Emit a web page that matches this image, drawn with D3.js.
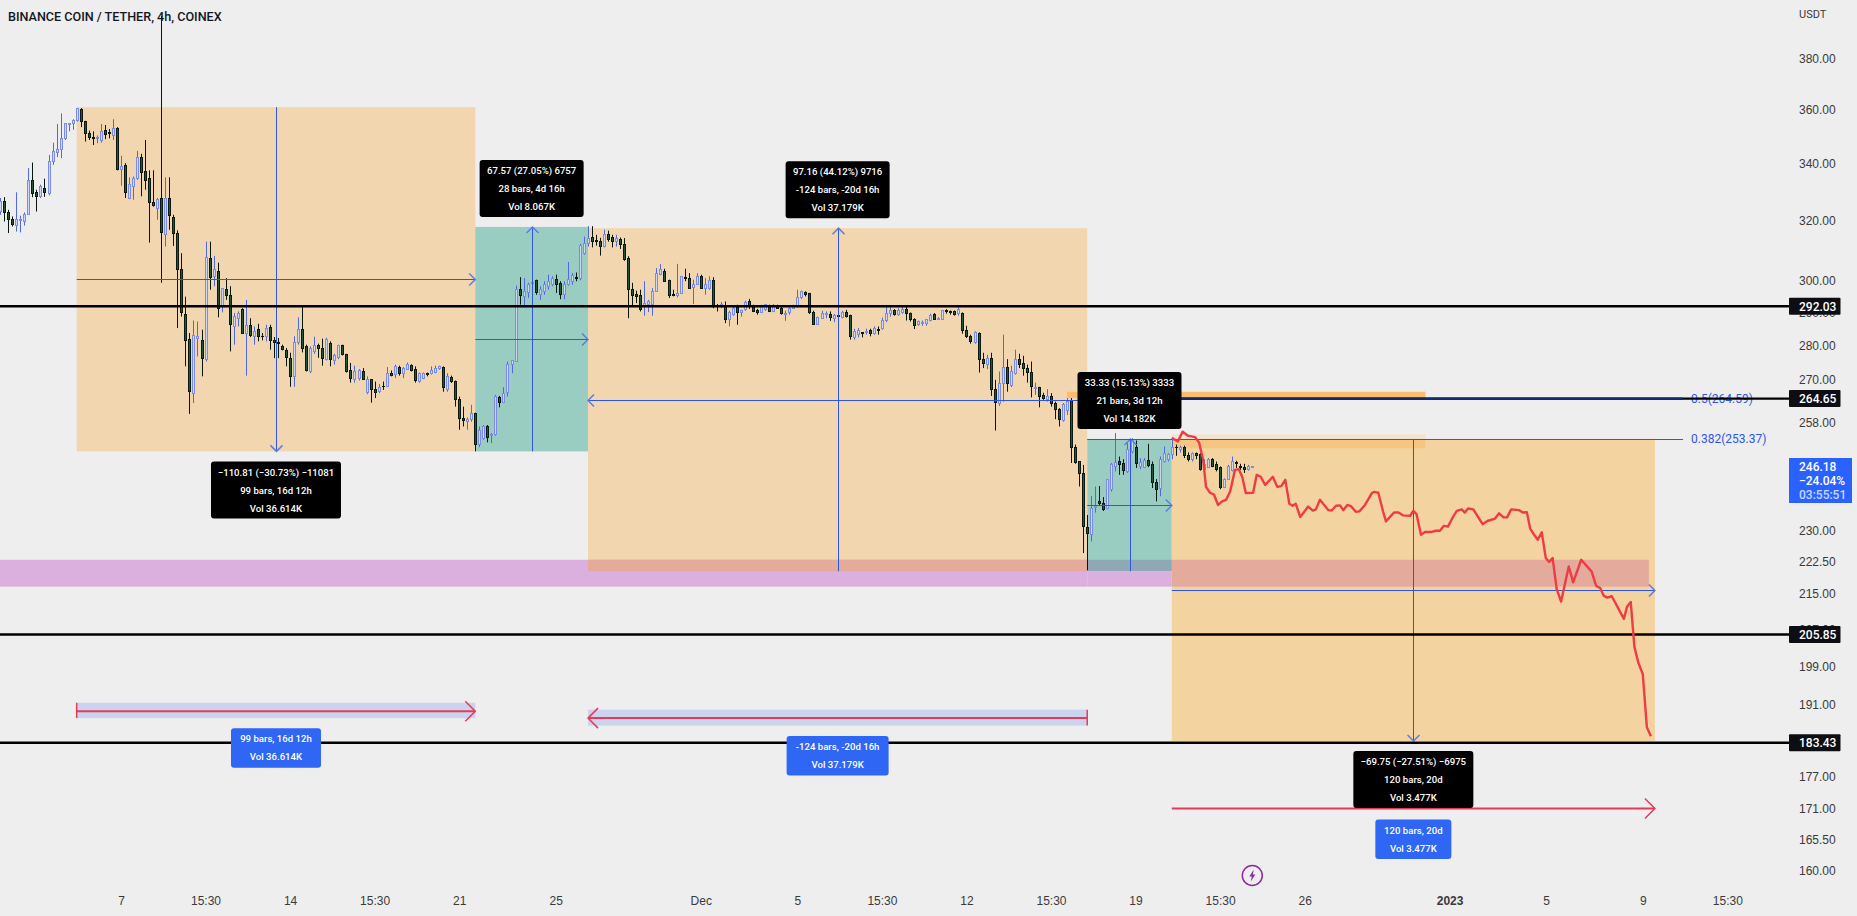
<!DOCTYPE html>
<html>
<head>
<meta charset="utf-8">
<title>BNB/USDT 4h</title>
<script src="https://cdn.jsdelivr.net/npm/d3@7"></script>
<style>
  html, body { margin: 0; padding: 0; background: #eeeeef; overflow: hidden; }
  svg { display: block; font-family: Roboto, sans-serif; }
  .tick text { fill: #3a3a3a; font-size: 12px; }
  .tool-label { fill: #fff; font-size: 9.6px; font-weight: 500; text-anchor: middle; }
</style>
</head>
<body>
<div id="chart"></div>
<script>
// Candles, one row per 4h bar: open, high, low, close
var candles = [
  [323,327.7,321.9,326.5],[326.5,328,319.6,322.7],[322.7,323.6,315.7,320.4],[320.2,321.3,317.9,318.5],[318.2,329.7,316.2,320.2],
  [320,321.6,315.9,320.2],[319.6,322.7,318.2,321.9],[321.9,338.3,321.9,333.7],[333.7,340.3,328,329.3],[329.5,330.6,323,328.1],
  [328.1,332.4,327.7,331.6],[331.2,334.5,328.1,329.7],[329.3,343.1,328.6,340.7],[340.7,347.6,339.5,344.3],[343.9,354.6,342.3,345.1],
  [345.1,358.6,341.9,349.2],[349.2,354.9,348.6,354.6],[354.3,354.9,351.8,354.6],[354.6,356.4,352.4,355.8],[355.8,360.6,355.5,360.6],
  [360.2,360.6,353.4,355.5],[355.6,355.8,348,351.1],[351.1,352.1,348.6,349.6],[349.6,351.8,346.7,349.3],[349.2,350.3,347.4,349.6],
  [348.4,354.6,347.6,351.8],[352.1,354.2,348.9,350.7],[351.4,352.7,349.2,351.1],[350.3,356.4,348.6,353],[353,353.4,337.5,337.7],
  [337.7,342.8,332,338.9],[339.4,340.1,327.7,329.5],[327.7,335,327.3,332.4],[331.8,335.3,327.1,334.7],[334.7,344.6,334.1,342.3],
  [342.3,343.5,328.3,336.7],[337.1,348.6,330.6,333.9],[334.5,337.5,312.5,326],[326,337.5,324.7,325],[324.2,327.7,320.2,327.3],
  [327.7,397.8,299.4,316],[315.1,335,311.2,327.7],[327.7,335,316.8,321.7],[320.8,321.9,311.4,315.4],[315.4,316.6,285.3,303.8],
  [303.8,309,288.8,290.1],[289.4,295,273.9,281.6],[281.8,283.8,260.4,266.6],[266.2,287.6,263.4,283],[282.2,287.3,276.8,282.6],
  [281.6,284.8,271,276.3],[275.8,312.8,275.3,307.7],[307.1,312.8,297.2,301.2],[301.5,308.1,298.3,303.6],[303,305.9,288.6,291.4],
  [291.9,297.7,290.1,297.7],[297.4,300.9,294,295.5],[295.4,298.3,278.3,286.3],[285.8,289.9,280.3,288.8],[288.3,290.4,285.8,289.9],
  [290.9,291.4,283.6,283.8],[283.8,294,271.2,286],[286,288.3,282.6,283],[282.8,285.8,280.3,284.3],[285,286.6,281.3,282.8],
  [282.8,283.8,281.6,282.6],[282.8,286.3,281.3,285.3],[285.6,286.3,278.8,281.6],[281.6,282.6,276.3,280.8],[281,282.3,276.3,280.5],
  [279.8,280.3,278.6,278.8],[278.6,279.3,273.9,276.6],[276.3,277.9,268,271],[271,282.8,268,281],[280.8,288.6,280.3,284.8],
  [284.8,292.1,278,279.1],[279.7,280.3,272.4,272.7],[272.3,279.8,271.9,279.1],[278.3,282.7,277.6,280.1],[280,280.6,276.4,279.3],
  [279.3,282.1,274.1,276.3],[275.8,282.4,275.6,281.8],[280.6,281.3,273.9,275.8],[275.6,277.6,274.4,277],[276.6,280.3,276,280],
  [280.1,280.3,277.1,277.3],[277.3,277.6,272.1,272.4],[272.6,274.9,269.2,270.5],[270.2,274.1,269.2,272.4],[270.5,273.1,269.8,272.7],
  [272.4,273.4,270,270.2],[266.3,271,265.9,270.2],[270,270.2,263.5,267.3],[267.3,269.5,264.8,266.3],[266.6,268.8,266.2,267.9],
  [268.2,269.5,267.1,268],[268,273.7,267.9,271.9],[271.9,272.7,271,271.2],[271.5,274.4,270.5,273.9],[273.5,274.1,271.2,271.8],
  [271.8,273.7,270.5,273.4],[273.1,275,272.9,274.4],[274.1,274.5,272.4,272.7],[273.1,273.9,269.2,269.8],[269.5,272.1,269.2,271.8],
  [270.5,272.1,270.2,271.8],[271.9,272.1,271,271.4],[271.8,273.9,271.5,272.7],[272.1,274.1,271.9,273.4],[273.4,274.1,272.9,273.8],
  [273.7,273.9,266.6,267.9],[267.1,271.9,266.6,271],[270.8,271.2,269.1,269.5],[269.5,269.8,262.4,264.5],[264.3,265.2,256,259.2],
  [259.2,262.4,256.9,258.5],[258.2,259.4,256,258.7],[258.7,262.9,258.2,260.6],[260.4,260.7,250.2,252],[252,256.9,251.3,255.8],
  [253.7,257.3,253.3,256.9],[256.9,257.3,252.6,254],[254.4,255.1,252.4,254.7],[254.6,265.7,254.4,265.2],[264.9,265.4,262.2,263.5],
  [263.5,267.9,263.4,266.2],[266.3,275.3,265.2,274.4],[274.4,275.6,271.9,275.6],[275.3,298.5,275.3,297.2],[297.2,301.2,292.5,295.3],
  [295.1,300.9,291.7,296.7],[296.2,299.4,294.6,298.8],[299.1,300.2,298.8,299.5],[300.1,300.4,295.6,296.2],[295.6,298.3,294,297.4],
  [296.7,299.9,295.6,299],[298.3,302,297.2,299.9],[298.8,301.5,298.3,300.9],[300.4,302,296.2,298.8],[299.1,299.9,294.2,295.6],
  [295.6,299.9,294.2,298.8],[298.8,306.1,298.5,300.4],[299.9,302.5,298.8,301.7],[301.2,302.7,299.9,300.8],[300.7,312.1,300.2,311.4],
  [309,314.5,308.5,312.3],[312.1,318,311.2,314],[314.2,318,310.9,312.8],[313.2,315.1,311.5,312.8],[312.8,314.1,308.2,311.2],
  [311.2,316.8,310.9,315.1],[315.1,316.5,312.8,313.4],[314.2,315.1,310.9,312.8],[312.8,315.1,311.2,314],[313.4,314.2,310.4,311.8],
  [312,314,306.5,307],[307.4,308,288.3,297.2],[297.2,299.4,291.9,295.4],[295.6,296.9,293,295.1],[295.4,297.2,290.4,290.9],
  [291.9,299.9,289.1,293],[292.5,294,290.2,293.5],[292.5,297.7,289.1,296.7],[296.7,304.1,296.7,302.5],[302,305.4,301.8,303.6],
  [303,303.9,299.7,299.9],[300.1,300.4,294.6,295.3],[295.6,297.2,295.1,295.3],[295.3,305.5,294.8,295.9],[295.9,301.5,295.9,301.5],
  [301.2,303.9,299.9,300.7],[300.7,302.5,297.5,297.7],[298,300.4,292.7,299],[299,302.5,298.8,301.5],[301.5,302,297.5,297.7],
  [297.7,300.9,295.6,298.8],[297.5,301.5,297.2,300.1],[300.1,301.2,291.4,292.1],[292.3,292.7,290.4,291.8],[291.8,293.3,291.4,292.5],
  [291.9,293.5,286.8,287.8],[287.8,290.6,285.8,290.2],[289.6,291.9,289.1,291.4],[291.6,292.5,286.3,290.2],[290.2,290.9,288.8,290.6],
  [290.9,293.7,290.6,293.3],[293.5,294.3,291.2,291.9],[291.9,292.5,290.2,290.4],[290.6,291.2,289.4,290.1],[290.2,292.5,289.9,291.9],
  [290.9,292.7,290.6,292.5],[291.8,292.5,290.2,290.4],[290.4,292.7,290.2,291.9],[292.1,292.5,291.2,291.4],[291.4,291.9,289.4,289.8],
  [289.4,290.6,287.5,289.9],[290.2,291.6,289.4,291.4],[291.4,292.5,291.2,292.1],[291.9,297.2,291.6,294.6],[294.6,296.9,294.3,296.5],
  [296.2,296.7,295.1,295.6],[295.9,296.2,289.6,290.2],[290.2,290.6,286.3,286.5],[286.5,288.8,286.3,288.5],[288.3,290.6,288.1,289.9],
  [289.4,290.4,288.3,289.8],[289.6,290.4,287.5,288.5],[288.1,289.6,287.1,289.1],[289.1,290.6,285.4,288.7],[288.5,290.6,288.3,290.2],
  [290.2,290.9,288.5,288.8],[289,289.4,281.8,282.8],[282.5,285.1,281.8,284.3],[283.3,285.3,282.5,284.5],[283.9,284.1,282.5,283.6],
  [283.9,285.1,283.3,284.3],[284.5,285.1,282.8,283.6],[283.8,285.8,283.3,285.1],[285,285.8,283.3,284.5],[285.1,288.5,284.8,287.5],
  [287.5,291.9,287.1,289.9],[289.7,291.7,288.8,290.7],[290.6,291.1,289.1,289.4],[289.4,291.4,289.1,290.7],[290.1,291.9,289.7,291.1],
  [290.9,292.1,287.6,289.9],[289.9,290.1,287.3,287.8],[288,288.3,285,286],[286.3,287.6,286,287.3],[286.8,287.6,286,287.1],
  [286.8,288,286,287.8],[287.6,289.7,287.3,289.1],[289.4,289.9,287.8,288],[288,288.6,287.8,288.3],[288,290.9,287.8,290.7],
  [290.7,291.1,289.7,290.4],[290.4,290.7,289.4,290.2],[290.4,290.7,289.1,289.4],[289.7,291.7,289.1,291.1],[289.9,290.1,283.6,284.6],
  [284.6,286,282.3,282.8],[282.8,283.3,280.6,281.3],[280.8,284.3,280.6,284],[283.8,284,272.1,276],[276,277.9,273.4,274.7],
  [274.4,277.3,273.1,276.3],[276.3,277.9,265.4,267.3],[267.3,270,255.8,263.5],[263.2,272.4,262.6,268.8],[268.8,283.3,263.8,273.7],
  [273.7,276,266.6,268.8],[268.5,274.1,267.9,272.4],[271.8,278.8,271.5,275.8],[275.8,277.6,273.4,274.4],[274.7,277,271.2,273.4],
  [273.4,274.4,269.2,272.1],[272.1,275.3,265,268],[267.5,269.2,265.7,267.9],[267.7,268,262.2,265.2],[265.6,266.3,264.3,264.8],
  [264.5,267.3,263.8,265.2],[265.2,266.2,262.4,263.2],[263.4,263.8,258.9,261.5],[261.5,262,256.9,258.9],[258.5,263.4,258.2,262.9],
  [261.3,264.8,260.1,263.8],[264.1,264.8,247.1,251.3],[251.3,252,246.9,247.2],[247.5,247.5,241,244.3],[244.3,246.6,224.5,230.9],
  [230.8,233.8,220.4,229.3],[228.9,238.6,227.3,235.5],[235.7,241,234.4,236],[237.2,241.1,236,236.6],[236.6,238.3,234.8,235.2],
  [235.4,242.7,235.2,242.7],[240.1,247.1,239.7,246.6],[246.2,255.1,244.9,247.2],[247.5,248.8,244,246.6],[246.9,248.1,244,245.1],
  [244.9,252.4,244.5,250.6],[250.2,253.7,249.7,253.3],[251.1,253.1,245.8,246.9],[246.2,248.4,245.5,247.2],[246,248.4,245.8,247.7],
  [247.7,252.2,246,246.5],[246.6,247.5,240.6,241.9],[242.1,242.9,237.2,240.1],[240.6,248.8,238.5,248.1],[247.5,251.5,247.2,249.6],
  [247.9,249.7,247.5,249.3],[249.3,254,248.1,251.1],[251.3,252,249,251.1],[250.8,251.7,249.9,251.3],[251.3,251.7,248.4,249],
  [249,249.9,247.5,248.1],[247.9,249.9,247.5,249.7],[249.7,249.9,248.1,249],[249.3,249.7,245.1,245.5],[245.5,248.1,245.1,246.6],
  [246,248.4,245.8,248.1],[247.9,248.4,246,246.2],[246.6,247.5,244.9,245.5],[245.8,246.2,240.3,240.7],[240.7,243.1,240.6,242.9],
  [242.9,246.6,242.7,246.2],[245.1,248.8,244.9,247.5],[247.3,247.7,245.8,246.9],[246.3,246.9,245.3,246],[246,246.9,244.5,245.5],
  [245.3,246.6,245.1,246.3],[246.1,246.3,246.1,246.18]
];

// Red projection line, bar position and price
var projectionBars = [291,292.5,293.7,295,296.8,297.8,298.8,299.5,300.5,301.5,302.5,303.5,304.5,305.5,306.7,307.6,308.5,309.4,311.2,312.1,
  313.1,314.2,316.1,317.2,318.2,319.2,320.2,321,321.8,322.9,324.9,326,326.8,327.8,329.9,330.7,331.8,332.8,333.6,334.6,
  335.5,336.7,337.6,339,340.7,341.3,342.3,343.5,344.2,346.2,347.3,348.4,350.2,351,351.8,352.9,353.9,355.6,356.6,357.6,
  358.6,359.6,360.9,361.8,363,363.8,364.6,365.9,368.2,369.4,371.3,372.3,373.4,374.3,375.3,377.3,378.2,379.2,380,381,
  381.9,382.9,383.9,384.7,385.6,386.6,387.7,389.6,390.7,392.7,395.3,396.4,397.4,398.3,399.2,400.3,403.3,404.1,405,405.9,
  406.9,408,409,410];
var projectionPrices = [253.8,252.8,255.5,254.4,254,252.5,247.9,240.9,239.4,238.9,236.3,237.2,237.6,239.7,245.3,245.5,243.5,239.3,239.4,244,
  243.5,241.4,243.5,240.9,241.1,242.7,236.6,236.1,236.6,233.3,235.9,234.9,235.2,237.6,235,234.9,236.1,236.2,235,236.3,
  236,234.6,234.7,236.3,239.3,239.6,239.4,234.6,232.2,234.4,234.4,233.7,233.6,234.8,234,228.9,229.6,229.6,229.9,229.9,
  231.1,230.9,233.4,234.8,235.2,234.4,235.4,235.2,231.5,232.3,232.9,234.2,233.2,233.2,235.2,235,234.4,234.5,230.5,228.9,
  227.7,229.5,223.3,222.4,223.3,216.1,213.2,221.3,217.6,222.9,220.1,216.8,216.3,214.5,214.1,214.4,209.3,212.1,213.1,203.2,
  199.7,197.3,186.5,184.7];

// Price and time axes
var priceTicks = [380,360,340,320,300,290,280,270,258,230,222.5,215,207,199,191,177,171,165.5,160];
var timeTickBars = [30,51,72,93,114,138,174,198,219,240,261,282,303,324,360,384,408,429];
var timeTickLabels = ['7','15:30','14','15:30','21','25','Dec','5','15:30','12','15:30','19','15:30','26','2023','5','9','15:30'];

// Horizontal levels with their price tags
var levelPrices = [292.03,264.65,205.85,183.43];
var levelStartBars = [null,270,null,null];

// Measure tools, bars and prices from start to end
var measureStartBars = [19,118,270,270,291];
var measureEndBars = [118,146,146,291,411];
var measureStartPrices = [360.99,250.18,220.18,220.18,253.51];
var measureEndPrices = [250.18,317.75,317.34,253.51,183.76];
var measureFills = ['#f2d6b0','#9acdc2','#f2d6b0','#9acdc2','#f3d3a0'];

var measureLabels = [
  ['\u2212110.81 (\u221230.73%) \u221211081','99 bars, 16d 12h','Vol 36.614K'],
  ['67.57 (27.05%) 6757','28 bars, 4d 16h','Vol 8.067K'],
  ['97.16 (44.12%) 9716','-124 bars, -20d 16h','Vol 37.179K'],
  ['33.33 (15.13%) 3333','21 bars, 3d 12h','Vol 14.182K'],
  ['\u221269.75 (\u221227.51%) \u22126975','120 bars, 20d','Vol 3.477K']
];
var measureLabelWidths = [130,104,104,104,120];

// Date range tools
var rangeStartBars = [19,270,291];
var rangeEndBars = [118,146,411];
var rangePrices = [189.7,188.3,171];
var rangeBandTops = [191.4,190,null];
var rangeBandBottoms = [188.3,186.8,null];
var rangeLabels = [
  ['99 bars, 16d 12h','Vol 36.614K'],
  ['-124 bars, -20d 16h','Vol 37.179K'],
  ['120 bars, 20d','Vol 3.477K']
];
var rangeLabelWidths = [90,102,76];
var rangeLabelGaps = [17,18,11];

// Support band and fib levels
var bandTop = 222.9, bandBottom = 216.6;
var fibRatios = ['0.5','0.382'];
var fibPrices = [264.59,253.37];
var fibStartBar = 270, fibEndBar = 418;

var width = 1857, height = 916;

var x = d3.scaleLinear().domain([0, 411]).range([0.2, 1654.9]);
var y = d3.scaleLog().domain([380, 160]).range([59, 871]);

var svg = d3.select('#chart').append('svg')
  .attr('width', width)
  .attr('height', height);

var blue = '#2f55e4',
    arrowBlue = '#5f7dde',
    red = '#e23c58',
    axisEdge = 1789;

// Snap a thin line to the pixel grid so it stays saturated
function snap(v){
  return Math.round(v) + 0.5;
}

// Support band, then the parts of it that sit under the boxes
var bands = svg.append('g');
function bandRect(b0, b1, top, bottom, fill){
  bands.append('rect')
    .attr('x', b0 === null ? 0 : x(b0))
    .attr('y', y(top))
    .attr('width', x(b1) - (b0 === null ? 0 : x(b0)))
    .attr('height', y(bottom) - y(top))
    .attr('fill', fill);
}

// Boxes
svg.append('g').selectAll('rect')
  .data(measureStartBars)
  .enter()
  .append('rect')
  .attr('x', (d, i) =>{return Math.min(x(d), x(measureEndBars[i]));})
  .attr('y', (d, i) =>{return Math.min(y(measureStartPrices[i]), y(measureEndPrices[i]));})
  .attr('width', (d, i) =>{return Math.abs(x(measureEndBars[i]) - x(d));})
  .attr('height', (d, i) =>{return Math.abs(y(measureEndPrices[i]) - y(measureStartPrices[i]));})
  .attr('fill', (d, i) =>{return measureFills[i];});

svg.node().appendChild(bands.node());
bandRect(null, 270, bandTop, bandBottom, '#dbb0df');
bandRect(146, 270, bandTop, 220.18, '#e4aa9c');
bandRect(270, 291, bandTop, 220.18, '#8ea8b5');
bandRect(291, 409.5, bandTop, bandBottom, '#e4aa9c');
bandRect(270, 291, 220.18, bandBottom, '#dbb0df');

// Orange zones near the fib levels
svg.append('rect')
  .attr('x', x(265)).attr('y', y(266.6))
  .attr('width', x(354) - x(265)).attr('height', y(264.8) - y(266.6))
  .attr('fill', '#fbbd6d');
svg.append('rect')
  .attr('x', x(291)).attr('y', y(254.8))
  .attr('width', x(354) - x(291)).attr('height', y(253.51) - y(254.8))
  .attr('fill', '#fbbd6d')
  .attr('opacity', 0.2);
svg.append('rect')
  .attr('x', x(291)).attr('y', y(253.51))
  .attr('width', x(354) - x(291)).attr('height', y(251) - y(253.51))
  .attr('fill', '#fbbd6d')
  .attr('opacity', 0.6);

// Candles
var bars = svg.append('g').selectAll('g')
  .data(candles)
  .enter()
  .append('g');

bars.append('line')
  .attr('x1', (d, i) =>{return snap(x(i));})
  .attr('x2', (d, i) =>{return snap(x(i));})
  .attr('y1', (d) =>{return y(d[1]);})
  .attr('y2', (d) =>{return y(d[2]);})
  .attr('stroke', (d) =>{return d[3] >= d[0] ? '#4f69e0' : '#08170d';});

bars.append('rect')
  .attr('x', (d, i) =>{return Math.round(x(i)) - 0.5;})
  .attr('width', 2)
  .attr('y', (d) =>{return y(Math.max(d[0], d[3]));})
  .attr('height', (d) =>{return Math.max(0.5, Math.abs(y(d[0]) - y(d[3])));})
  .attr('fill', (d) =>{return d[3] >= d[0] ? '#cfd6f2' : '#24573a';})
  .attr('stroke', (d) =>{return d[3] >= d[0] ? '#7a8de2' : '#0a1a10';})
  .attr('shape-rendering', 'crispEdges');

// Chevron at the end of a line
function chevron(px, py, dir, size, color, sw){
  var dx = dir === 'l' ? size : dir === 'r' ? -size : 0,
      dy = dir === 'u' ? size : dir === 'd' ? -size : 0;
  var a = dx !== 0 ? [px + dx, py - size] : [px - size, py + dy],
      b = dx !== 0 ? [px + dx, py + size] : [px + size, py + dy];
  svg.append('path')
    .attr('d', 'M' + a + 'L' + [px, py] + 'L' + b)
    .attr('fill', 'none')
    .attr('stroke', color)
    .attr('stroke-width', sw);
}

// Measure cross lines
measureStartBars.forEach((d, i) =>{
  var x0 = x(d), x1 = x(measureEndBars[i]),
      y0 = y(measureStartPrices[i]), y1 = y(measureEndPrices[i]),
      midX = snap((x0 + x1)/2), midY = snap((y0 + y1)/2);

  svg.append('line')
    .attr('x1', x0).attr('y1', midY).attr('x2', x1).attr('y2', midY)
    .attr('stroke', blue);
  svg.append('line')
    .attr('x1', midX).attr('y1', y0).attr('x2', midX).attr('y2', y1)
    .attr('stroke', blue);

  chevron(x1, midY, x1 > x0 ? 'r' : 'l', 6, arrowBlue, 1.5);
  chevron(midX, y1, y1 > y0 ? 'd' : 'u', 6, arrowBlue, 1.5);
});

// Axes
var yAxis = d3.axisRight(y)
  .tickValues(priceTicks)
  .tickFormat(d3.format('.2f'))
  .tickSize(0);

svg.append('g')
  .attr('transform', 'translate(1796,0)')
  .call(yAxis)
  .call((g) =>{g.select('.domain').remove();});

var xAxis = d3.axisBottom(x)
  .tickValues(timeTickBars)
  .tickFormat((d, i) =>{return timeTickLabels[i];})
  .tickSize(0);

svg.append('g')
  .attr('transform', 'translate(0,893)')
  .call(xAxis)
  .call((g) =>{
    g.select('.domain').remove();
    g.selectAll('text').style('font-weight', (d, i) =>{return timeTickLabels[i] === '2023' ? 700 : 400;});
  });

svg.append('text')
  .attr('x', 1799).attr('y', 18)
  .attr('fill', '#3a3a3a').attr('font-size', 11)
  .text('USDT');

// Fib labels
fibPrices.forEach((d, i) =>{
  svg.append('text')
    .attr('x', x(fibEndBar) + 8).attr('y', y(d) + 4)
    .attr('fill', blue).attr('font-size', 12)
    .text(fibRatios[i] + '(' + d3.format('.2f')(d) + ')');
});

// Black levels
levelPrices.forEach((d, i) =>{
  svg.append('line')
    .attr('x1', levelStartBars[i] === null ? 0 : x(levelStartBars[i]))
    .attr('x2', axisEdge)
    .attr('y1', y(d)).attr('y2', y(d))
    .attr('stroke', '#000')
    .attr('stroke-width', 2.4);
});

// Fib lines, the 0.5 one runs on top of the black level
svg.append('line')
  .attr('x1', x(fibStartBar)).attr('x2', x(fibEndBar))
  .attr('y1', y(fibPrices[0])).attr('y2', y(fibPrices[0]))
  .attr('stroke', '#12296e')
  .attr('stroke-width', 2.4);
svg.append('line')
  .attr('x1', x(fibStartBar)).attr('x2', x(fibEndBar))
  .attr('y1', snap(y(fibPrices[1]))).attr('y2', snap(y(fibPrices[1])))
  .attr('stroke', blue);

// Red projection
var projectionLine = d3.line()
  .x((d, i) =>{return x(projectionBars[i]);})
  .y((d) =>{return y(d);});

svg.append('path')
  .datum(projectionPrices)
  .attr('d', projectionLine)
  .attr('fill', 'none')
  .attr('stroke', '#ef3b45')
  .attr('stroke-width', 2.4)
  .attr('stroke-linejoin', 'round');

// Date ranges
rangeStartBars.forEach((d, i) =>{
  var x0 = x(d), x1 = x(rangeEndBars[i]), ry = y(rangePrices[i]);

  if(rangeBandTops[i] !== null){
    svg.append('rect')
      .attr('x', Math.min(x0, x1)).attr('width', Math.abs(x1 - x0))
      .attr('y', y(rangeBandTops[i]))
      .attr('height', y(rangeBandBottoms[i]) - y(rangeBandTops[i]))
      .attr('fill', '#cbd3ee');
    svg.append('line')
      .attr('x1', x0).attr('x2', x0)
      .attr('y1', y(rangeBandTops[i])).attr('y2', y(rangeBandBottoms[i]))
      .attr('stroke', red).attr('stroke-width', 1.5);
  }
  svg.append('line')
    .attr('x1', x0).attr('x2', x1)
    .attr('y1', ry).attr('y2', ry)
    .attr('stroke', red).attr('stroke-width', 2);
  chevron(x1, ry, x1 > x0 ? 'r' : 'l', 10, red, 1.5);
});

// Rounded label with centered lines
function toolLabel(cx, top, w, lines, fill){
  var h = lines.length === 3 ? 57 : 39.5;
  svg.append('rect')
    .attr('x', cx - w/2).attr('y', top)
    .attr('width', w).attr('height', h)
    .attr('rx', 3)
    .attr('fill', fill);
  svg.selectAll(null)
    .data(lines)
    .enter()
    .append('text')
    .attr('class', 'tool-label')
    .attr('x', cx)
    .attr('y', (d, i) =>{return top + 14.2 + i*18;})
    .text((d) =>{return d;});
}

// Labels sit just past the tip of the vertical arrow
measureLabels.forEach((d, i) =>{
  var cx = (x(measureStartBars[i]) + x(measureEndBars[i]))/2,
      y1 = y(measureEndPrices[i]),
      up = measureEndPrices[i] > measureStartPrices[i];
  toolLabel(cx, up ? y1 - 67 : y1 + 10, measureLabelWidths[i], d, '#000');
});

rangeLabels.forEach((d, i) =>{
  var cx = (x(rangeStartBars[i]) + x(rangeEndBars[i]))/2;
  toolLabel(cx, y(rangePrices[i]) + rangeLabelGaps[i], rangeLabelWidths[i], d, '#2f66f4');
});

// Level price tags
levelPrices.forEach((d) =>{
  svg.append('rect')
    .attr('x', axisEdge).attr('y', y(d) - 8.5)
    .attr('width', 51.5).attr('height', 17)
    .attr('rx', 1)
    .attr('fill', '#0c0e14');
  svg.append('text')
    .attr('x', 1799).attr('y', y(d) + 4.5)
    .attr('fill', '#fff').attr('font-size', 12).attr('font-weight', 500)
    .text(d3.format('.2f')(d));
});

// Last price tag
svg.append('rect')
  .attr('x', axisEdge).attr('y', 458)
  .attr('width', 63).attr('height', 45)
  .attr('fill', '#2962ff');
svg.selectAll(null)
  .data(['246.18','\u221224.04%','03:55:51'])
  .enter()
  .append('text')
  .attr('x', 1799)
  .attr('y', (d, i) =>{return 471 + i*14;})
  .attr('fill', (d, i) =>{return i === 2 ? '#c9d7ff' : '#fff';})
  .attr('font-size', 12)
  .attr('font-weight', 500)
  .text((d) =>{return d;});

// Title
svg.append('text')
  .attr('x', 8).attr('y', 21)
  .attr('fill', '#131722')
  .attr('font-size', 12.6)
  .attr('font-weight', 500)
  .text('BINANCE COIN / TETHER, 4h, COINEX');

// Lightning mark
var bolt = svg.append('g').attr('transform', 'translate(' + x(311) + ',875.5)');
bolt.append('circle')
  .attr('r', 10)
  .attr('fill', 'none')
  .attr('stroke', '#8e2aa8')
  .attr('stroke-width', 1.5);
bolt.append('path')
  .attr('d', 'M1.5,-6 L-3,1 L-0.5,1 L-1.5,6 L3,-1 L0.5,-1 Z')
  .attr('fill', '#8e2aa8');
</script>
</body>
</html>
